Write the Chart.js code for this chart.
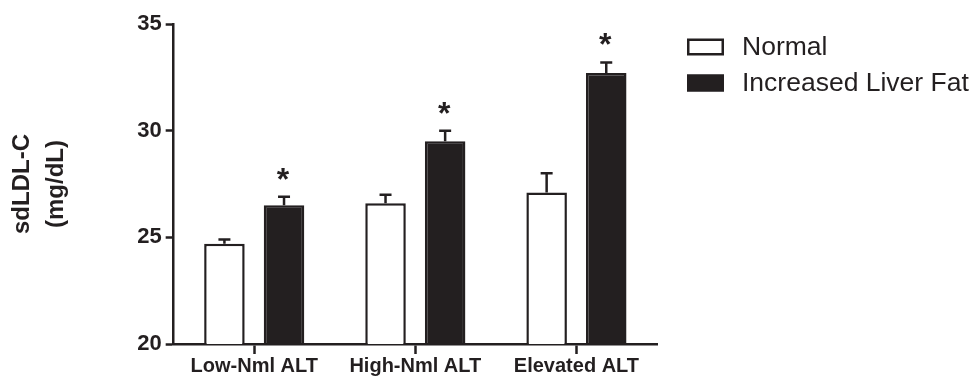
<!DOCTYPE html>
<html>
<head>
<meta charset="utf-8">
<script src="https://cdn.jsdelivr.net/npm/chart.js@4"></script>
<style>
  html, body { margin: 0; padding: 0; background: #fff; }
  #wrap { width: 977px; height: 381px; }
</style>
</head>
<body>
<div id="wrap"><canvas id="sdldlChart" width="977" height="381"></canvas></div>
<script>
// values (mean and SEM)
const categories = ['Low-Nml ALT', 'High-Nml ALT', 'Elevated ALT'];
const normalValues = [24.7, 26.6, 27.1];
const normalErrors = [0.2, 0.4, 0.9];
const fatValues = [26.5, 29.5, 32.7];
const fatErrors = [0.4, 0.5, 0.5];
const fatStars = ['*', '*', '*'];
const yTicks = [20, 25, 30, 35];

const ink = '#231f20';
const fontFamily = '"Liberation Sans", Arial, Helvetica, sans-serif';

// error bars + significance stars
const errorBars = {
  id: 'errorBars',
  afterDatasetsDraw(chart) {
    const ctx = chart.ctx;
    const yScale = chart.scales.y;
    chart.data.datasets.forEach((ds, i) => {
      const meta = chart.getDatasetMeta(i);
      meta.data.forEach((bar, j) => {
        const top = yScale.getPixelForValue(ds.data[j] + ds.errors[j]);
        ctx.save();
        ctx.strokeStyle = ink;
        ctx.lineWidth = 2.5;
        ctx.beginPath();
        ctx.moveTo(bar.x, bar.y);
        ctx.lineTo(bar.x, top);
        ctx.moveTo(bar.x - 6, top);
        ctx.lineTo(bar.x + 6, top);
        ctx.stroke();
        if (ds.stars && ds.stars[j]) {
          ctx.fillStyle = ink;
          ctx.font = 'bold 32px ' + fontFamily;
          ctx.textAlign = 'center';
          ctx.textBaseline = 'alphabetic';
          ctx.fillText(ds.stars[j], bar.x - 1, top - 7);
        }
        ctx.restore();
      });
    });
  }
};

// legend drawn to the right like the original figure
const sideLegend = {
  id: 'sideLegend',
  afterDraw(chart) {
    const ctx = chart.ctx;
    chart.data.datasets.forEach((ds, i) => {
      const cy = 47 + i * 36;
      ctx.save();
      ctx.fillStyle = ds.backgroundColor;
      ctx.fillRect(687, cy - 8.5, 37, 17);
      ctx.strokeStyle = ink;
      ctx.lineWidth = 2.5;
      ctx.strokeRect(688.25, cy - 7.25, 34.5, 14.5);
      ctx.fillStyle = ink;
      ctx.font = '26.5px ' + fontFamily;
      ctx.textAlign = 'left';
      ctx.textBaseline = 'middle';
      ctx.fillText(ds.label, 742, cy + 1);
      ctx.restore();
    });
  }
};

new Chart(document.getElementById('sdldlChart'), {
  type: 'bar',
  data: {
    labels: categories,
    datasets: [
      {
        label: 'Normal',
        data: normalValues,
        errors: normalErrors,
        backgroundColor: '#ffffff',
        borderColor: ink,
        borderWidth: 2.5
      },
      {
        label: 'Increased Liver Fat',
        data: fatValues,
        errors: fatErrors,
        stars: fatStars,
        backgroundColor: ink,
        borderColor: ink,
        borderWidth: 2.5
      }
    ]
  },
  options: {
    responsive: false,
    devicePixelRatio: 1,
    animation: false,
    categoryPercentage: 0.74,
    barPercentage: 0.68,
    layout: { padding: { top: 24, right: 320, bottom: 3, left: 0 } },
    plugins: {
      legend: { display: false },
      tooltip: { enabled: false }
    },
    scales: {
      x: {
        offset: true,
        grid: {
          offset: false,
          drawOnChartArea: false,
          tickLength: 10,
          tickColor: ink,
          tickWidth: 2.5
        },
        border: { display: true, color: ink, width: 2.5 },
        ticks: {
          padding: 0,
          color: ink,
          font: { family: fontFamily, size: 20, weight: 'bold' }
        }
      },
      y: {
        min: 20,
        max: 35,
        afterBuildTicks: s => { s.ticks = yTicks.map(v => ({ value: v })); },
        grid: {
          drawOnChartArea: false,
          tickLength: 8,
          tickColor: ink,
          tickWidth: 2.5
        },
        border: { display: true, color: ink, width: 2.5 },
        ticks: {
          padding: 4,
          color: ink,
          font: { family: fontFamily, size: 22, weight: 'bold' }
        },
        title: {
          display: true,
          text: ['sdLDL-C', '(mg/dL)'],
          color: ink,
          font: { family: fontFamily, size: 24, weight: 'bold', lineHeight: 1.4 },
          padding: { top: 6, bottom: 60 }
        }
      }
    }
  },
  plugins: [errorBars, sideLegend]
});
</script>
</body>
</html>
